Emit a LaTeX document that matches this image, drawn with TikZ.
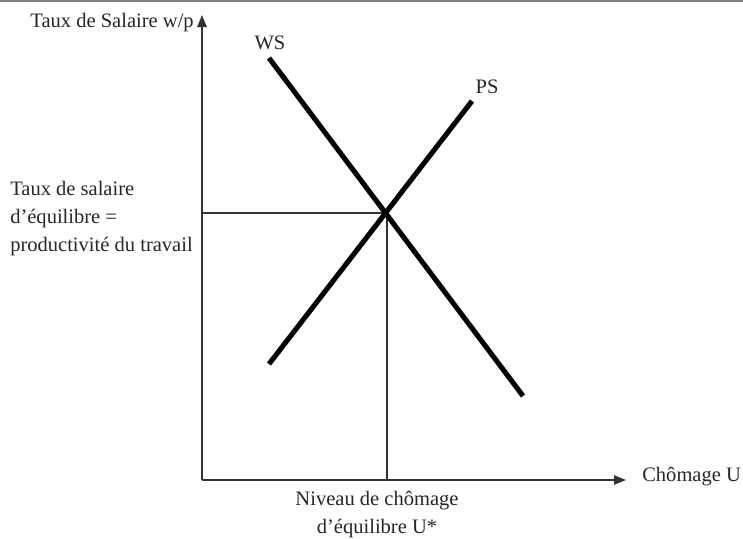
\documentclass[tikz,border=0pt]{standalone}
\usepackage{fontspec}
\setmainfont{Liberation Serif}
\usetikzlibrary{arrows.meta}
\begin{document}
\begin{tikzpicture}[x=0.75pt,y=-0.75pt,
  lbl/.style={font=\fontsize{15.4}{21}\selectfont, inner sep=0pt, text=black!85},
  axis/.style={draw=black!80, line width=1.1pt, -{Triangle[length=9pt,width=7pt]}},
  guide/.style={draw=black!80, line width=0.9pt},
  curve/.style={draw=black, line width=3.8pt}]
\useasboundingbox (0,0) rectangle (743,539);
\draw[draw=black!50, line width=1.5pt] (0,0.5) -- (743,0.5);
% coordinates
\coordinate (O) at (202,480);
\coordinate (Ytop) at (202,15);
\coordinate (Xend) at (626,480);
\coordinate (E) at (387,213);
\coordinate (Ey) at (202,213);
\coordinate (Ex) at (387,480);
\coordinate (ws1) at (269,58);
\coordinate (ws2) at (523,396);
\coordinate (ps1) at (269,364);
\coordinate (ps2) at (472,101);
% axes
\draw[axis] (O) -- (Ytop);
\draw[axis] (O) -- (Xend);
% guides
\draw[guide] (Ey) -- (E) -- (Ex);
% curves
\draw[curve] (ws1) -- (ws2);
\draw[curve] (ps1) -- (ps2);
% labels
\node[lbl, anchor=east] (ylab) at (194,23) {Taux de Salaire w/p};
\node[lbl, anchor=west] (xlab) at (642,477) {Chômage U};
\node[lbl] (wslab) at (270,43) {WS};
\node[lbl] (pslab) at (487,87) {PS};
\node[lbl, anchor=west, align=left] (eqw) at (10,219) {Taux de salaire\\d’équilibre =\\productivité du travail};
\node[lbl, align=center] (equ) at (377,515) {Niveau de chômage\\d’équilibre U*};
\end{tikzpicture}
\end{document}
